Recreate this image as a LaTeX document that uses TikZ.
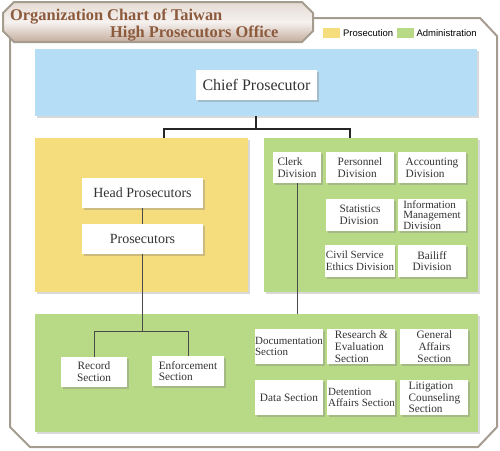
\documentclass[tikz,border=0pt]{standalone}
\usepackage{fontspec}
\setmainfont{Liberation Serif}
\newfontfamily\legendfont{Liberation Sans}
\usetikzlibrary{positioning,shadows}
\definecolor{chiefblue}{HTML}{B5DDF6}
\definecolor{prosyellow}{HTML}{F5DC7C}
\definecolor{admingreen}{HTML}{B8D985}
\definecolor{framegray}{HTML}{A59C90}
\definecolor{titlebrown}{HTML}{8C5A3C}
\definecolor{linegray}{HTML}{4A4A4A}
\newcommand{\unitbox}[3]{
    \node[unitnode, #1] (#2) {#3};
}

\begin{document}
\begin{tikzpicture}[x=1pt, y=-1pt, node distance=16pt and 4pt,
    panel/.style={inner sep=0pt, outer sep=0pt, drop shadow={shadow xshift=1.5pt, shadow yshift=-1.5pt, opacity=0.3}},
    unitnode/.style={fill=white, inner xsep=0.5pt, inner ysep=1pt, outer sep=0pt, text=black!80, font=\fontsize{11.3}{11.8}\selectfont, align=left, minimum width=68pt, minimum height=33pt, drop shadow={shadow xshift=1.5pt, shadow yshift=-1.5pt, opacity=0.35}},
    bigunit/.style={unitnode, minimum width=121pt, minimum height=30pt, font=\fontsize{14}{16}\selectfont},
    keybox/.style={minimum width=17pt, minimum height=10pt, inner sep=0pt},
    keytext/.style={inner sep=0pt, font=\legendfont\fontsize{9.5}{11}\selectfont},
    orgline/.style={draw=linegray, line width=0.9pt}
]
    \useasboundingbox (0,0) rectangle (500,450);

    % outer frame and title banner
    \draw[framegray, line width=2pt] (30,18) -- (480,18) -- (497,36) -- (497,427) -- (478,447) -- (30,447) -- (10,427) -- (10,36) -- cycle;
    \shadedraw[draw=framegray, line width=2pt, top color=titlebrown!22!white, bottom color=titlebrown!50!white, middle color=white!92!titlebrown]
        (14,2) -- (302,2) -- (313,13) -- (313,31) -- (302,42) -- (14,42) -- (3,31) -- (3,13) -- cycle;
    \node[anchor=base west, inner sep=0pt, text=titlebrown, font=\fontsize{16.4}{18}\selectfont\bfseries] (titleone) at (10,20) {Organization Chart of Taiwan};
    \node[anchor=base west, inner sep=0pt, text=titlebrown, font=\fontsize{16.4}{18}\selectfont\bfseries] (titletwo) at (110,37) {High Prosecutors Office};

    % legend
    \node[keybox, fill=prosyellow, anchor=west] (proskey) at (323,33) {};
    \node[keytext, right=2.5pt of proskey] (proslabel) {Prosecution};
    \node[keybox, fill=admingreen, right=3pt of proslabel] (adminkey) {};
    \node[keytext, right=2.5pt of adminkey] (adminlabel) {Administration};

    % coloured panels
    \node[panel, fill=chiefblue, minimum width=442pt, minimum height=67pt] (chiefpanel) at (256,82.5) {};
    \node[panel, fill=prosyellow, minimum width=213pt, minimum height=154pt] (prospanel) at (141.5,215) {};
    \node[panel, fill=admingreen, minimum width=214pt, minimum height=154pt] (divpanel) at (371,215) {};
    \node[panel, fill=admingreen, minimum width=443pt, minimum height=118pt] (secpanel) at (256.5,373) {};

    % prosecution units
    \node[bigunit, font=\fontsize{16}{18}\selectfont] (chief) at (256.5,85) {Chief Prosecutor};
    \node[bigunit] (headpros) at (142.5,193) {Head Prosecutors};
    \node[bigunit, below=of headpros] (pros) {Prosecutors};
    \unitbox{minimum width=66pt, minimum height=30pt, align=center, at={(94,372)}}{record}{Record\\Section}
    \unitbox{minimum width=72pt, minimum height=30pt, at={(188,371)}}{enforce}{Enforcement\\Section}

    % divisions
    \unitbox{minimum width=48pt, minimum height=31pt, at={(297,167.5)}}{clerk}{Clerk\\Division}
    \unitbox{right=5pt of clerk, minimum height=31pt}{personnel}{Personnel\\Division}
    \unitbox{right=of personnel, minimum height=31pt}{accounting}{Accounting\\Division}
    \unitbox{below=of personnel, minimum height=32pt}{statistics}{Statistics\\Division}
    \unitbox{below=of accounting, minimum height=32pt, font=\fontsize{11}{10.5}\selectfont}{infomgmt}{Information\\Management\\Division}
    \unitbox{below=14pt of statistics, minimum height=32pt, font=\fontsize{11}{11.8}\selectfont}{ethics}{Civil Service\\Ethics Division}
    \unitbox{below=14pt of infomgmt, minimum height=32pt, align=center}{bailiff}{Bailiff\\Division}

    % sections
    \unitbox{minimum height=35pt, font=\fontsize{11}{11.8}\selectfont, at={(289,346.5)}}{docsec}{Documentation\\Section}
    \unitbox{right=of docsec, minimum height=35pt}{research}{Research \&\\Evaluation\\Section}
    \unitbox{right=5pt of research, minimum height=35pt, align=center}{general}{General\\Affairs\\Section}
    \unitbox{below=of docsec, minimum height=35pt, align=center}{datasec}{Data Section}
    \unitbox{below=of research, minimum height=35pt, font=\fontsize{11}{11.8}\selectfont}{detention}{Detention\\Affairs Section}
    \unitbox{below=of general, minimum height=35pt}{litigation}{Litigation\\Counseling\\Section}

    % connectors
    \draw[draw=black!85, line width=1.2pt] (chiefpanel.south) -- ++(0,13) coordinate (topsplit);
    \draw[draw=black!85, line width=1.2pt] (topsplit) -| ([xshift=22.5pt]prospanel.north);
    \draw[draw=black!85, line width=1.2pt] (topsplit) -| ([xshift=-21pt]divpanel.north);
    \draw[orgline] (headpros) -- (pros);
    \draw[orgline] (pros.south) -- ++(0,77) coordinate (secsplit);
    \draw[orgline] (secsplit) -| (record.north);
    \draw[orgline] (secsplit) -| (enforce.north);
    \draw[orgline] (clerk.south) -- (clerk.south |- secpanel.north);
\end{tikzpicture}
\end{document}
